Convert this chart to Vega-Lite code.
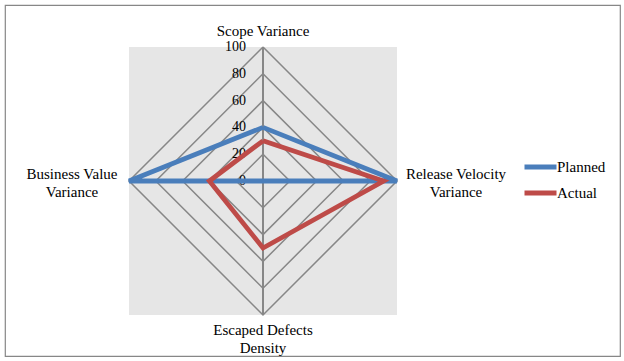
{
  "$schema": "https://vega.github.io/schema/vega-lite/v6.json",
  "width": 615,
  "height": 351,
  "autosize": {"type": "none"},
  "padding": {"left": 5, "top": 5, "right": 4, "bottom": 5},
  "background": "white",
  "config": {
    "view": {"stroke": "#878787", "strokeWidth": 1.2},
    "font": "Liberation Serif",
    "text": {"font": "Liberation Serif", "fontSize": 15, "color": "#000000"}
  },
  "datasets": {
    "series": [
      {"series": "Planned", "axis": "Scope Variance", "k": 0, "value": 40},
      {"series": "Planned", "axis": "Release Velocity Variance", "k": 1, "value": 100},
      {"series": "Planned", "axis": "Escaped Defects Density", "k": 2, "value": 0},
      {"series": "Planned", "axis": "Business Value Variance", "k": 3, "value": 100},
      {"series": "Planned", "axis": "Scope Variance", "k": 4, "value": 40},
      {"series": "Actual", "axis": "Scope Variance", "k": 0, "value": 30},
      {"series": "Actual", "axis": "Release Velocity Variance", "k": 1, "value": 90},
      {"series": "Actual", "axis": "Escaped Defects Density", "k": 2, "value": 50},
      {"series": "Actual", "axis": "Business Value Variance", "k": 3, "value": 40},
      {"series": "Actual", "axis": "Scope Variance", "k": 4, "value": 30}
    ],
    "grid": [
      {"level": 20, "k": [0, 1, 2, 3, 4]},
      {"level": 40, "k": [0, 1, 2, 3, 4]},
      {"level": 60, "k": [0, 1, 2, 3, 4]},
      {"level": 80, "k": [0, 1, 2, 3, 4]},
      {"level": 100, "k": [0, 1, 2, 3, 4]}
    ],
    "axes": [
      {"axis": "Scope Variance", "k": 0, "max": 100},
      {"axis": "Release Velocity Variance", "k": 1, "max": 100},
      {"axis": "Escaped Defects Density", "k": 2, "max": 100},
      {"axis": "Business Value Variance", "k": 3, "max": 100}
    ],
    "ticks": [
      {"level": 0}, {"level": 20}, {"level": 40}, {"level": 60}, {"level": 80}, {"level": 100}
    ],
    "frame": [
      {"lo": -100, "hi": 100}
    ]
  },
  "layer": [
    {
      "data": {"name": "frame"},
      "mark": {"type": "rect", "fill": "#e6e6e6"},
      "encoding": {
        "x": {"field": "lo", "type": "quantitative", "scale": {"domain": [-192.54, 266.42], "nice": false, "zero": false}, "axis": null},
        "x2": {"field": "hi"},
        "y": {"field": "lo", "type": "quantitative", "scale": {"domain": [-130.6, 131.34], "nice": false, "zero": false}, "axis": null},
        "y2": {"field": "hi"}
      }
    },
    {
      "data": {"name": "grid"},
      "transform": [
        {"flatten": ["k"]},
        {"calculate": "datum.level * sin(datum.k * PI / 2)", "as": "gx"},
        {"calculate": "datum.level * cos(datum.k * PI / 2)", "as": "gy"}
      ],
      "mark": {"type": "line", "stroke": "#878787", "strokeWidth": 1.5, "strokeJoin": "miter"},
      "encoding": {
        "x": {"field": "gx", "type": "quantitative", "axis": null},
        "y": {"field": "gy", "type": "quantitative", "axis": null},
        "detail": {"field": "level", "type": "nominal"},
        "order": {"field": "k", "type": "quantitative"}
      }
    },
    {
      "data": {"name": "axes"},
      "transform": [
        {"calculate": "datum.max * sin(datum.k * PI / 2)", "as": "ex"},
        {"calculate": "datum.max * cos(datum.k * PI / 2)", "as": "ey"},
        {"calculate": "0", "as": "origin"}
      ],
      "mark": {"type": "rule", "stroke": "#878787", "strokeWidth": 2},
      "encoding": {
        "x": {"field": "origin", "type": "quantitative", "axis": null},
        "y": {"field": "origin", "type": "quantitative", "axis": null},
        "x2": {"field": "ex"},
        "y2": {"field": "ey"}
      }
    },
    {
      "data": {"name": "ticks"},
      "transform": [{"calculate": "0", "as": "origin"}],
      "mark": {"type": "text", "align": "right", "baseline": "middle", "dx": -17, "fontSize": 14},
      "encoding": {
        "x": {"field": "origin", "type": "quantitative", "axis": null},
        "y": {"field": "level", "type": "quantitative", "axis": null},
        "text": {"field": "level", "type": "quantitative"}
      }
    },
    {
      "data": {"name": "series"},
      "transform": [
        {"calculate": "datum.value * sin(datum.k * PI / 2)", "as": "sx"},
        {"calculate": "datum.value * cos(datum.k * PI / 2)", "as": "sy"}
      ],
      "mark": {"type": "line", "strokeWidth": 4.8, "strokeJoin": "miter"},
      "encoding": {
        "x": {"field": "sx", "type": "quantitative", "axis": null},
        "y": {"field": "sy", "type": "quantitative", "axis": null},
        "order": {"field": "k", "type": "quantitative"},
        "color": {
          "field": "series",
          "type": "nominal",
          "scale": {"domain": ["Planned", "Actual"], "range": ["#4a7ebb", "#be4b48"]},
          "legend": {
            "title": null,
            "orient": "none",
            "legendX": 517,
            "legendY": 152,
            "symbolType": "stroke",
            "symbolSize": 1024,
            "symbolStrokeWidth": 5,
            "clipHeight": 20,
            "rowPadding": 6,
            "labelOffset": -2,
            "labelFont": "Liberation Serif",
            "labelFontSize": 15,
            "labelColor": "#000000",
            "padding": 0
          }
        }
      }
    },
    {
      "data": {"name": "axes"},
      "transform": [{"filter": "datum.k == 0"}, {"calculate": "0", "as": "origin"}],
      "mark": {"type": "text", "align": "center", "baseline": "middle", "dy": -16},
      "encoding": {
        "x": {"field": "origin", "type": "quantitative", "axis": null},
        "y": {"field": "max", "type": "quantitative", "axis": null},
        "text": {"field": "axis", "type": "nominal"}
      }
    },
    {
      "data": {"name": "axes"},
      "transform": [{"filter": "datum.k == 1"}, {"calculate": "0", "as": "origin"}, {"calculate": "['Release Velocity', 'Variance']", "as": "lbl"}],
      "mark": {"type": "text", "align": "center", "baseline": "middle", "dx": 59, "dy": -7, "lineHeight": 18},
      "encoding": {
        "x": {"field": "max", "type": "quantitative", "axis": null},
        "y": {"field": "origin", "type": "quantitative", "axis": null},
        "text": {"field": "lbl", "type": "nominal"}
      }
    },
    {
      "data": {"name": "axes"},
      "transform": [{"filter": "datum.k == 2"}, {"calculate": "-datum.max", "as": "neg"}, {"calculate": "0", "as": "origin"}, {"calculate": "['Escaped Defects', 'Density']", "as": "lbl"}],
      "mark": {"type": "text", "align": "center", "baseline": "middle", "dy": 15, "lineHeight": 18},
      "encoding": {
        "x": {"field": "origin", "type": "quantitative", "axis": null},
        "y": {"field": "neg", "type": "quantitative", "axis": null},
        "text": {"field": "lbl", "type": "nominal"}
      }
    },
    {
      "data": {"name": "axes"},
      "transform": [{"filter": "datum.k == 3"}, {"calculate": "-datum.max", "as": "neg"}, {"calculate": "0", "as": "origin"}, {"calculate": "['Business Value', 'Variance']", "as": "lbl"}],
      "mark": {"type": "text", "align": "center", "baseline": "middle", "dx": -57, "dy": -7, "lineHeight": 18},
      "encoding": {
        "x": {"field": "neg", "type": "quantitative", "axis": null},
        "y": {"field": "origin", "type": "quantitative", "axis": null},
        "text": {"field": "lbl", "type": "nominal"}
      }
    }
  ]
}
